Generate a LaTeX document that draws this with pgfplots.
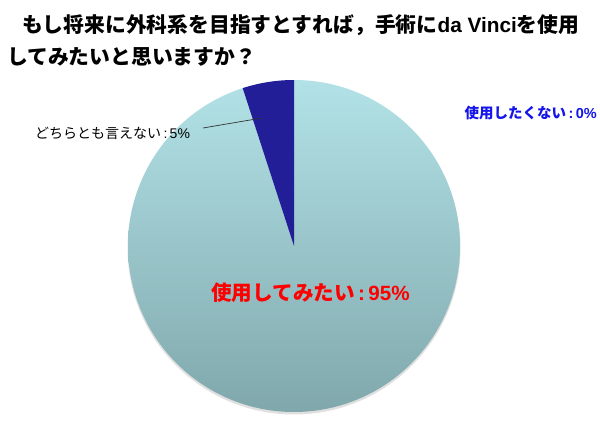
\documentclass[border=0pt]{standalone}
\usepackage{pgfplots}
\pgfplotsset{compat=1.18}
\usepackage{fontspec}
\setmainfont{Noto Sans CJK JP}
\newfontfamily\lat{Liberation Sans}
\definecolor{pieTop}{RGB}{178,226,231}
\definecolor{pieBot}{RGB}{128,168,172}
\definecolor{pieDark}{RGB}{33,30,152}
\definecolor{lblBlue}{RGB}{20,20,235}

\begin{document}
\begin{tikzpicture}[x=1pt,y=1pt]
  \useasboundingbox[fill=white] (0,0) rectangle (600,423);
  \begin{axis}[
      at={(294pt,177pt)}, anchor=center,
      scale only axis, width=332pt, height=332pt,
      xmin=-1, xmax=1, ymin=-1, ymax=1,
      hide axis, clip=false,
    ]
    % shares in percent: 使用してみたい, どちらとも言えない, 使用したくない
    \pgfmathsetmacro{\pA}{95}
    \pgfmathsetmacro{\pB}{5}
    \pgfmathsetmacro{\eA}{90-3.6*\pA}
    \pgfmathsetmacro{\eB}{\eA-3.6*\pB}
    \fill[black!12] ([yshift=-2pt]axis cs:0,0) circle[radius=166.5pt];
    \shade[top color=pieTop, bottom color=pieBot]
      (axis cs:0,0) -- ++(90:166pt) arc[start angle=90, end angle=\eA, radius=166pt] -- cycle;
    \fill[pieDark]
      (axis cs:0,0) -- ++(\eA:166pt) arc[start angle=\eA, end angle=\eB, radius=166pt] -- cycle;
  \end{axis}
  \draw[black!80, line width=0.7pt] (203,295) -- (262,305);
  \node[anchor=west, inner sep=0pt, font=\fontsize{20.8}{24}\selectfont\bfseries] at (22,397.5)
    {もし将来に外科系を目指すとすれば，手術に{\lat\bfseries da Vinci}を使用};
  \node[anchor=west, inner sep=0pt, font=\fontsize{20.8}{24}\selectfont\bfseries] at (7,366)
    {してみたいと思いますか？};
  \node[anchor=west, inner sep=0pt, font=\fontsize{14}{16}\selectfont] at (35,290) {どちらとも言えない{\lat\,:\,5\%}};
  \node[anchor=east, inner sep=0pt, text=lblBlue, font=\fontsize{14.5}{17}\selectfont\bfseries] at (597,310) {使用したくない{\lat\bfseries\,:\,0\%}};
  \node[anchor=west, inner sep=0pt, text=red, font=\fontsize{20.6}{24}\selectfont\bfseries] at (211,130) {使用してみたい{\lat\bfseries\,:\,95\%}};
\end{tikzpicture}
\end{document}
